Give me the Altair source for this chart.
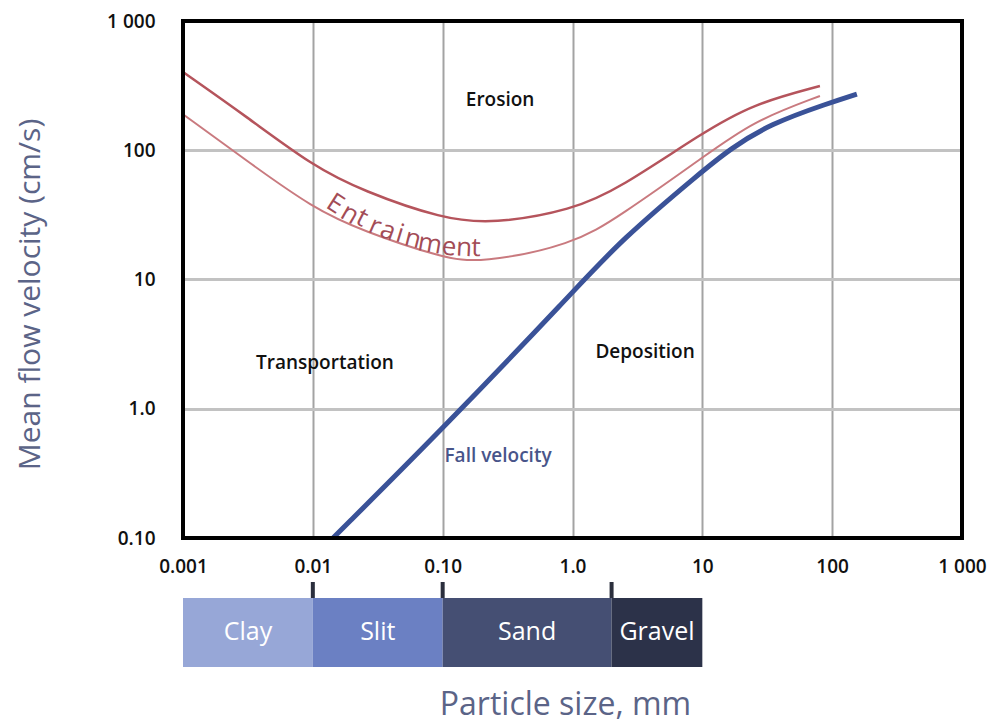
import json
import altair as alt
import pandas as pd

# ---- data ----
x_ticks = [0.001, 0.01, 0.1, 1, 10, 100, 1000]
x_tick_labels = ["0.001", "0.01", "0.10", "1.0", "10", "100", "1 000"]
y_ticks = [0.1, 1, 10, 100, 1000]
y_tick_labels = ["0.10", "1.0", "10", "100", "1 000"]

upper_size = [0.001, 0.00311, 0.01, 0.0243, 0.1, 0.244, 1.0, 2.32, 9.96, 24.5, 80.5]
upper_vel = [403, 181, 75.5, 48.4, 29.4, 26.9, 34.5, 51.1, 136, 228, 314]

lower_size = [0.001, 0.00311, 0.01, 0.0243, 0.1, 0.194, 1.0, 2.32, 9.96, 24.5, 80.5]
lower_vel = [190, 82.6, 35.7, 23.7, 14.7, 13.4, 18.5, 31.0, 87.1, 168, 263]

fall_size = [0.0143, 0.1, 1.0, 2.32, 10.0, 16.3, 33.2, 94.6, 155]
fall_vel = [0.1, 0.70, 7.9, 19.9, 69.0, 102, 160, 232, 272]

region_labels = ["Erosion", "Transportation", "Deposition"]
region_size = [0.277, 0.0124, 3.62]
region_vel = [245, 2.26, 2.75]

fall_label = ["Fall velocity"]
fall_label_size = [0.267]
fall_label_vel = [0.43]

# "Entrainment" written letter by letter along the curve
entr_chars = list("Entrainment")
entr_size = [0.01483, 0.01932, 0.02392, 0.03013, 0.03793, 0.04690,
             0.05910, 0.0799, 0.1119, 0.1460, 0.1806]
entr_vel = [38.4, 32.1, 29.9, 25.9, 23.7, 22.5, 20.6, 18.83, 17.85, 17.53, 17.53]
entr_angle = [33, 30, 27, 24, 20, 17, 14, 10, 6, 3, 1]

class_names = ["Clay", "Slit", "Sand", "Gravel"]
class_start = [0.001, 0.01, 0.1, 2]
class_end = [0.01, 0.1, 2, 10]
class_colors = ["#97a7d7", "#6b80c3", "#454f73", "#2c3249"]
class_bounds = [0.01, 0.1, 2]

FONT = "Open Sans"
TITLE_COLOR = "#5b6487"

upper_df = pd.DataFrame({"size": upper_size, "velocity": upper_vel})
lower_df = pd.DataFrame({"size": lower_size, "velocity": lower_vel})
fall_df = pd.DataFrame({"size": fall_size, "velocity": fall_vel})
region_df = pd.DataFrame({"label": region_labels, "size": region_size, "velocity": region_vel})
fall_lab_df = pd.DataFrame({"label": fall_label, "size": fall_label_size, "velocity": fall_label_vel})
entr_df = pd.DataFrame({"ch": entr_chars, "size": entr_size, "velocity": entr_vel,
                        "angle": entr_angle})

x_expr = json.dumps(x_tick_labels) + "[round(log(datum.value)/LN10)+3]"
y_expr = json.dumps(y_tick_labels) + "[round(log(datum.value)/LN10)+1]"

xscale = alt.Scale(type="log", domain=[0.001, 1000], nice=False)
yscale = alt.Scale(type="log", domain=[0.1, 1000], nice=False)

x_enc = alt.X(
    "size:Q",
    scale=xscale,
    axis=alt.Axis(
        values=x_ticks, labelExpr=x_expr, title=None, grid=True, ticks=False,
        domain=False, labelPadding=19, labelFont=FONT, labelFontSize=19,
        labelFontWeight=600, labelColor="#111111", labelFlush=False,
        labelOverlap=False, gridColor="#a3a3a3", gridWidth=2,
    ),
)
y_enc = alt.Y(
    "velocity:Q",
    scale=yscale,
    axis=alt.Axis(
        values=y_ticks, labelExpr=y_expr, title="Mean flow velocity (cm/s)",
        grid=True, ticks=False, domain=False, labelPadding=28, labelFont=FONT,
        labelFontSize=19, labelFontWeight=600, labelColor="#111111",
        labelFlush=False, labelOverlap=False, gridColor="#c2c2c2", gridWidth=3,
        titleFont=FONT, titleFontSize=30, titleFontWeight="normal",
        titleColor=TITLE_COLOR, titlePadding=61, titleY=273,
    ),
)

frame = alt.Chart().mark_rect(
    filled=False, stroke="black", strokeWidth=4
).encode(
    x=alt.datum(0.001), x2=alt.datum(1000), y=alt.datum(0.1), y2=alt.datum(1000)
)
upper = alt.Chart(upper_df).mark_line(
    color="#b5545c", strokeWidth=2.5, interpolate="basis", clip=True
).encode(x=x_enc, y=y_enc)
lower = alt.Chart(lower_df).mark_line(
    color="#c97a7f", strokeWidth=2, interpolate="basis", clip=True
).encode(x="size:Q", y="velocity:Q")
fall = alt.Chart(fall_df).mark_line(
    color="#3a5298", strokeWidth=5, interpolate="basis", clip=True, strokeCap="butt"
).encode(x="size:Q", y="velocity:Q")

regions = alt.Chart(region_df).mark_text(
    font=FONT, fontSize=19, fontWeight=600, color="#111111"
).encode(x="size:Q", y="velocity:Q", text="label:N")
fall_text = alt.Chart(fall_lab_df).mark_text(
    font=FONT, fontSize=19, fontWeight=600, color="#48558a"
).encode(x="size:Q", y="velocity:Q", text="label:N")
entr_text = alt.Chart(entr_df).mark_text(
    font=FONT, fontSize=26, fontWeight=500, color="#a34c56"
).encode(x="size:Q", y="velocity:Q", text="ch:N", angle=alt.Angle("angle:Q", scale=None))

top = alt.layer(upper, lower, fall, regions, fall_text, entr_text, frame).properties(
    width=779, height=517,
)

# ---- particle-size band ----
class_df = pd.DataFrame({
    "name": class_names, "start": class_start, "end": class_end, "color": class_colors,
})
class_df["mid"] = (class_df["start"] * class_df["end"]) ** 0.5
bounds_df = pd.DataFrame({"bound": class_bounds})

band_y = alt.Scale(domain=[0, 1])
bx = alt.X(
    "start:Q", scale=xscale,
    axis=alt.Axis(
        title="Particle size, mm", labels=False, ticks=False, domain=False, grid=False,
        titleFont=FONT, titleFontSize=32, titleFontWeight="normal",
        titleColor=TITLE_COLOR, titlePadding=22, titleX=382,
    ),
)
bars = alt.Chart(class_df).mark_rect().encode(
    x=bx, x2="end:Q",
    y=alt.datum(0, scale=band_y, axis=None), y2=alt.datum(0.812),
    color=alt.Color("color:N", scale=None),
)
bar_text = alt.Chart(class_df).mark_text(
    font=FONT, fontSize=25, color="white"
).encode(x="mid:Q", y=alt.datum(0.406), text="name:N")
ticks = alt.Chart(bounds_df).mark_rule(color="#2b2f3d", strokeWidth=4).encode(
    x="bound:Q", y=alt.datum(0.812), y2=alt.datum(1.0)
)
bottom = alt.layer(bars, ticks, bar_text).properties(width=779, height=85)

chart = alt.vconcat(top, bottom, spacing=4).properties(
    padding={"left": 15, "top": 12, "right": 0, "bottom": 2},
    background="white",
).configure_view(stroke=None)

chart.save("out.html", embed_options={"renderer": "svg", "actions": False})
